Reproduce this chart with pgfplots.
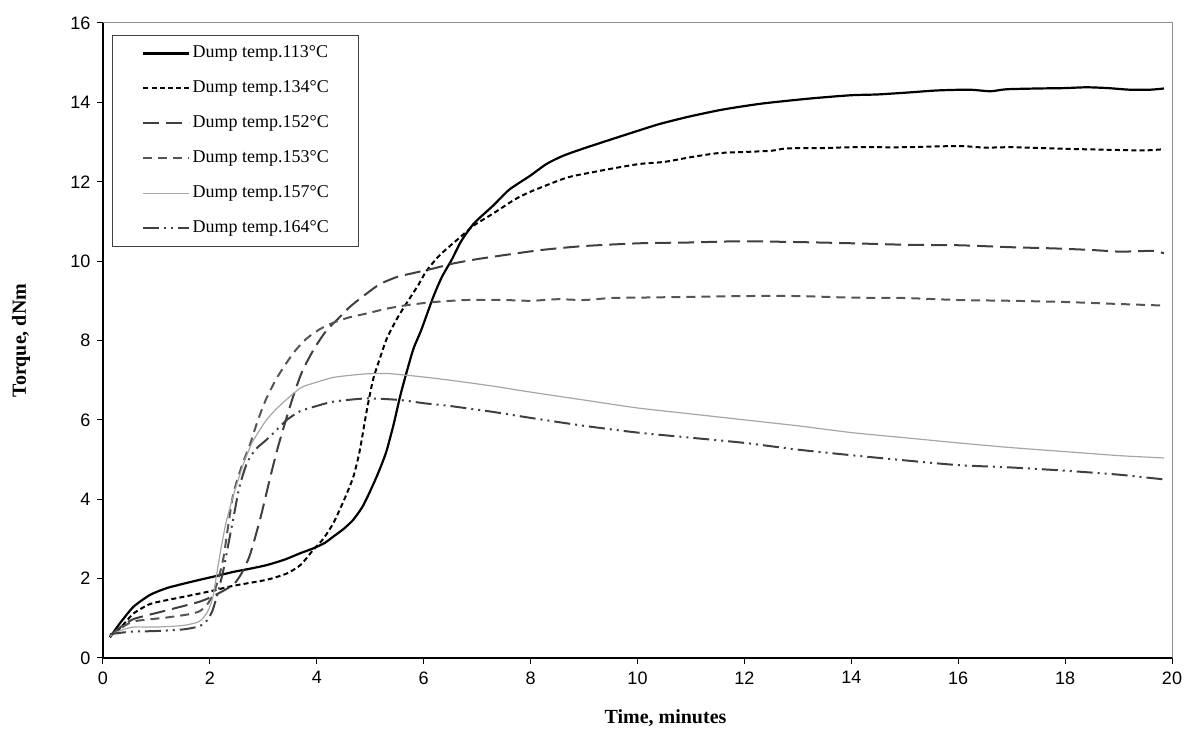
\documentclass[border=0pt]{standalone}
\usepackage{fontspec}
\setmainfont{Liberation Serif}
\newfontfamily\arialfont{Liberation Sans}
\usepackage{pgfplots}
\pgfplotsset{compat=1.18}
\usepackage{pgfplotstable}
\usetikzlibrary{calc}
\definecolor{cA}{HTML}{000000}
\definecolor{cB}{HTML}{000000}
\definecolor{cC}{HTML}{3F3F3F}
\definecolor{cD}{HTML}{555555}
\definecolor{cE}{HTML}{A6A6A6}
\definecolor{cF}{HTML}{404040}

\pgfplotstableread{
t v
0.13 0.52
0.32 0.88
0.57 1.29
0.88 1.59
1.19 1.76
1.5 1.87
1.81 1.97
2.1 2.06
2.44 2.17
2.75 2.25
3.06 2.34
3.4 2.48
3.69 2.64
3.93 2.76
4.15 2.9
4.31 3.06
4.5 3.25
4.68 3.48
4.85 3.8
4.98 4.15
5.12 4.57
5.22 4.9
5.31 5.24
5.44 5.9
5.56 6.6
5.68 7.2
5.81 7.8
5.95 8.25
6.18 9.1
6.34 9.6
6.53 10.05
6.7 10.5
6.94 10.95
7.3 11.4
7.6 11.8
7.99 12.15
8.3 12.45
8.6 12.65
8.95 12.82
9.4 13.02
9.86 13.22
10.4 13.45
10.96 13.64
11.6 13.82
12.33 13.97
13.25 14.1
14.0 14.18
14.5 14.2
15.08 14.25
15.6 14.3
16.2 14.32
16.6 14.28
16.9 14.33
17.5 14.35
18.0 14.36
18.4 14.38
18.8 14.36
19.2 14.32
19.6 14.32
19.85 14.35
}\tA

\pgfplotstableread{
t v
0.13 0.55
0.32 0.75
0.57 1.12
0.88 1.36
1.2 1.46
1.5 1.54
2.0 1.68
2.44 1.82
3.06 1.97
3.44 2.13
3.7 2.35
3.93 2.72
4.12 3.0
4.31 3.4
4.5 3.95
4.68 4.55
4.8 5.2
4.93 6.2
5.05 7.0
5.18 7.55
5.31 8.05
5.5 8.55
5.68 8.94
5.9 9.4
6.05 9.75
6.3 10.15
6.68 10.6
6.94 10.9
7.3 11.2
7.7 11.55
8.0 11.75
8.67 12.1
9.2 12.25
9.6 12.35
10.05 12.45
10.5 12.5
11.0 12.62
11.5 12.72
12.0 12.75
12.5 12.78
12.79 12.84
13.5 12.85
14.0 12.87
15.0 12.87
16.0 12.9
16.5 12.86
17.0 12.87
18.0 12.83
19.0 12.8
19.5 12.79
19.85 12.82
}\tB

\pgfplotstableread{
t v
0.13 0.55
0.3 0.75
0.57 0.98
1.19 1.2
1.81 1.42
2.12 1.6
2.44 1.85
2.6 2.15
2.75 2.6
2.94 3.5
3.12 4.5
3.25 5.2
3.4 5.9
3.56 6.6
3.72 7.2
3.87 7.6
4.0 7.9
4.18 8.25
4.4 8.55
4.62 8.85
4.9 9.15
5.18 9.42
5.5 9.6
5.81 9.7
6.2 9.82
6.55 9.94
7.0 10.05
7.5 10.15
8.2 10.28
9.0 10.38
10.05 10.45
11.0 10.47
11.9 10.5
13.0 10.48
14.0 10.45
15.08 10.41
16.0 10.4
17.0 10.35
17.8 10.32
18.5 10.28
19.0 10.24
19.4 10.25
19.65 10.26
19.85 10.2
}\tC

\pgfplotstableread{
t v
0.13 0.55
0.3 0.72
0.57 0.92
1.19 1.02
1.6 1.1
1.81 1.18
1.95 1.35
2.06 1.6
2.15 1.95
2.25 2.5
2.35 3.4
2.44 4.15
2.6 4.85
2.75 5.38
2.9 6.0
3.06 6.55
3.25 7.05
3.44 7.45
3.6 7.75
3.81 8.05
4.05 8.28
4.31 8.45
4.6 8.58
4.93 8.68
5.3 8.8
5.68 8.89
6.2 8.97
6.8 9.02
7.5 9.02
8.0 9.0
8.5 9.04
9.0 9.02
9.5 9.07
10.0 9.08
11.0 9.1
12.0 9.12
13.0 9.12
14.0 9.08
15.0 9.07
16.0 9.02
17.0 9.0
18.0 8.97
19.0 8.92
19.85 8.88
}\tD

\pgfplotstableread{
t v
0.13 0.55
0.3 0.68
0.57 0.78
1.0 0.78
1.5 0.82
1.8 0.92
1.95 1.15
2.05 1.5
2.12 2.05
2.2 2.7
2.3 3.4
2.44 4.1
2.63 4.9
2.8 5.45
3.06 6.0
3.3 6.35
3.69 6.8
4.0 6.95
4.31 7.07
4.68 7.13
4.93 7.16
5.3 7.17
5.56 7.14
6.0 7.08
6.49 7.0
7.3 6.85
8.0 6.7
9.0 6.5
10.0 6.3
11.0 6.15
12.0 6.0
13.0 5.85
14.0 5.68
15.0 5.55
16.0 5.42
17.0 5.3
18.0 5.2
19.0 5.1
19.85 5.04
}\tE

\pgfplotstableread{
t v
0.13 0.6
0.5 0.66
1.0 0.68
1.5 0.72
1.8 0.8
1.95 0.95
2.05 1.2
2.15 1.65
2.25 2.2
2.35 2.9
2.45 3.6
2.55 4.3
2.69 4.9
2.85 5.25
3.06 5.5
3.25 5.75
3.44 6.0
3.69 6.22
4.0 6.35
4.31 6.46
4.93 6.54
5.56 6.5
6.0 6.42
6.49 6.35
7.3 6.2
8.0 6.05
9.0 5.85
10.0 5.68
11.0 5.55
12.0 5.42
13.0 5.25
14.0 5.11
15.0 4.98
16.0 4.86
17.0 4.8
18.0 4.72
19.0 4.62
19.5 4.55
19.85 4.5
}\tF

\begin{document}
\begin{tikzpicture}
\begin{axis}[
  scale only axis,
  width=1069pt, height=635pt,
  xmin=0, xmax=20, ymin=0, ymax=16,
  xtick={0,2,...,20}, ytick={0,2,...,16},
  axis x line*=bottom, axis y line*=left,
  axis line style={black, line width=1.2pt, -},
  tick align=outside,
  major tick length=6pt,
  tick style={black, line width=1pt},
  /pgf/number format/assume math mode=true,
  tick label style={font=\arialfont\fontsize{18}{18}\selectfont},
  yticklabel style={xshift=-3pt},
  xticklabel style={yshift=-4pt},
  xlabel={\textbf{Time, minutes}},
  ylabel={\textbf{Torque, dNm}},
  label style={font=\fontsize{20}{20}\selectfont},
  xlabel style={at={(axis description cs:0.5262,-0.0945)}, anchor=center},
  ylabel style={at={(axis description cs:-0.0767,0.5)}, anchor=center, rotate=0},
  legend style={at={(axis description cs:0,1)}, anchor=north west, xshift=9pt, yshift=-12pt,
    draw=black!75, line width=1pt, inner xsep=0pt, inner ysep=10pt,
    font=\fontsize{18}{18}\selectfont, row sep=19pt,
    nodes={inner xsep=2pt, inner ysep=0pt, text height=12pt, text depth=4pt}},
  legend cell align=left,
  legend image code/.code={\path[draw=none] (-31pt,0pt) -- (0pt,0pt); \draw[#1] (0pt,0pt) -- (46pt,0pt);},
  every axis plot/.append style={smooth, tension=0.4},
  after end axis/.code={\draw[black!45, line width=1pt] (rel axis cs:0,1) -- (rel axis cs:1,1) -- (rel axis cs:1,0);},
]
\addplot[cA, line width=2.2pt] table[x=t,y=v]{\tA};
\addlegendentry{Dump temp.113°C\hspace*{28pt}}
\addplot[cB, line width=2pt, dash pattern=on 5pt off 3.2pt] table[x=t,y=v]{\tB};
\addlegendentry{Dump temp.134°C\hspace*{28pt}}
\addplot[cC, line width=2pt, dash pattern=on 16pt off 7pt] table[x=t,y=v]{\tC};
\addlegendentry{Dump temp.152°C\hspace*{28pt}}
\addplot[cD, line width=2pt, dash pattern=on 9pt off 6pt] table[x=t,y=v]{\tD};
\addlegendentry{Dump temp.153°C\hspace*{28pt}}
\addplot[cE, line width=1.2pt] table[x=t,y=v]{\tE};
\addlegendentry{Dump temp.157°C\hspace*{28pt}}
\addplot[cF, line width=2pt, dash pattern=on 16pt off 5pt on 2pt off 5pt on 2pt off 5pt] table[x=t,y=v]{\tF};
\addlegendentry{Dump temp.164°C\hspace*{28pt}}
\end{axis}
\pgfresetboundingbox
\path[use as bounding box] ($(current axis.south west)+(-103pt,-73pt)$) rectangle ($(current axis.north east)+(15pt,23pt)$);
\end{tikzpicture}
\end{document}
